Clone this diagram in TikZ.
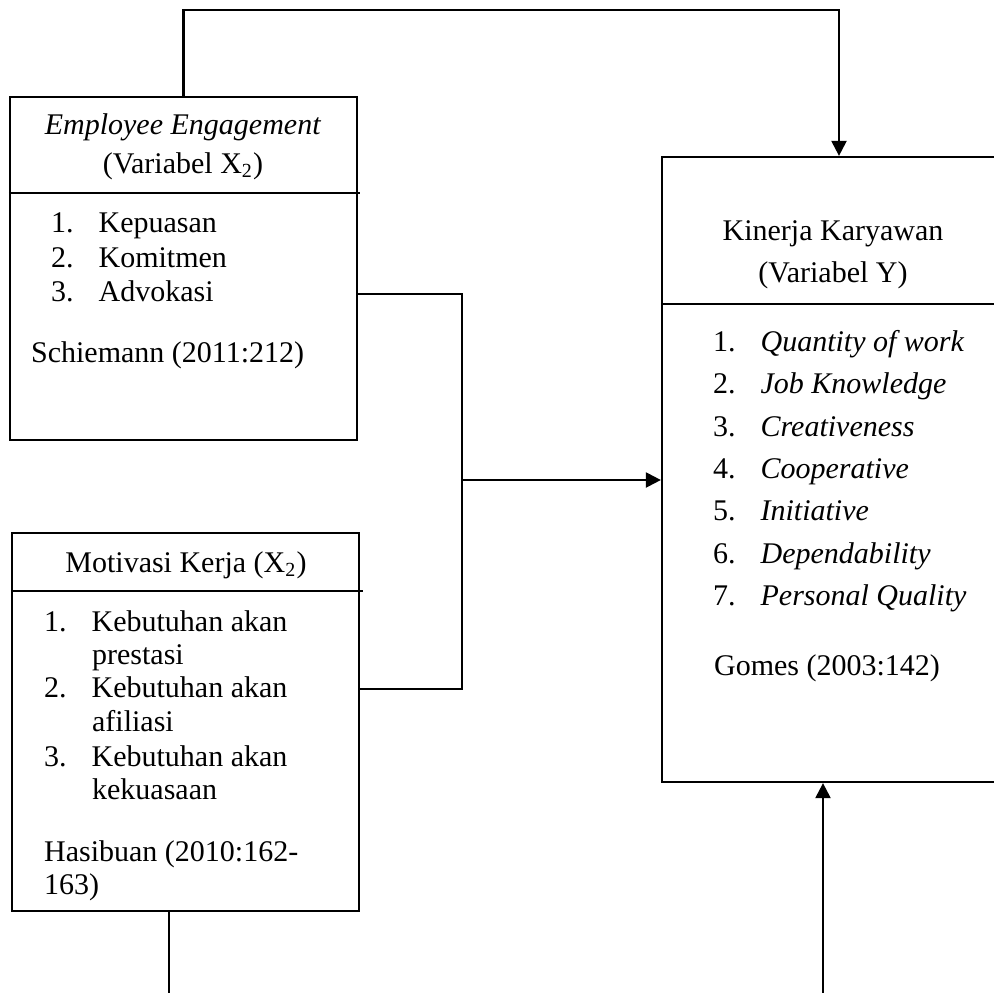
\documentclass[tikz,border=0pt]{standalone}
\usepackage{fontspec}
\setmainfont{Liberation Serif}
\usetikzlibrary{arrows.meta, positioning, calc, fit}
\newcommand{\numitem}[2]{\makebox[19pt][l]{#1}#2}
\tikzset{
>={Triangle[length=6pt,width=6pt]},
box/.style={%
    rectangle,
    draw=black,
    inner sep=0pt,
},
txt/.style={%
    inner sep=0pt,
    anchor=base west,
    % Font
    font=\fontsize{12pt}{14pt}\selectfont
},
title/.style={txt, anchor=base},
}

\begin{document}
\begin{tikzpicture}[x=0.4pt, y=-0.4pt, line width=0.9pt]
	\useasboundingbox (0,0) rectangle (994,993);
	\node[box, fit={(10,97) (357,440)}] (ee) {};
	\node[box, fit={(12,533) (359,911)}] (mk) {};
	\node[box, fit={(662,157) (1016,782)}] (kk) {};

	% Employee Engagement
	\coordinate (eediv) at (360,193);
	\node[title] (eet1) at (183,134) {\textit{Employee Engagement}};
	\node[title] (eet2) at (183,173) {(Variabel X\textsubscript{2})};
	\node[txt] (ee1) at (50,232) {\numitem{1.}{Kepuasan}};
	\node[txt] (ee2) at (50,267) {\numitem{2.}{Komitmen}};
	\node[txt] (ee3) at (50,301) {\numitem{3.}{Advokasi}};
	\node[txt] (eesrc) at (30,362) {Schiemann (2011:212)};

	% Motivasi Kerja
	\coordinate (mkdiv) at (363,591);
	\node[title] (mkt) at (186,572) {Motivasi Kerja (X\textsubscript{2})};
	\node[txt] (mk1) at (43,631) {\numitem{1.}{Kebutuhan akan}};
	\node[txt] (mk1b) at (91,664) {prestasi};
	\node[txt] (mk2) at (43,697) {\numitem{2.}{Kebutuhan akan}};
	\node[txt] (mk2b) at (91,731) {afiliasi};
	\node[txt] (mk3) at (43,766) {\numitem{3.}{Kebutuhan akan}};
	\node[txt] (mk3b) at (91,799) {kekuasaan};
	\node[txt] (mksrc) at (43,861) {Hasibuan (2010:162-};
	\node[txt] (mksrcb) at (43,894) {163)};

	% Kinerja Karyawan
	\coordinate (kkdiv) at (1016,304);
	\node[title] (kkt1) at (833,240) {Kinerja Karyawan};
	\node[title] (kkt2) at (833,282) {(Variabel Y)};
	\node[txt] (kk1) at (712,351) {\numitem{1.}{\textit{Quantity of work}}};
	\node[txt] (kk2) at (712,393) {\numitem{2.}{\textit{Job Knowledge}}};
	\node[txt] (kk3) at (712,436) {\numitem{3.}{\textit{Creativeness}}};
	\node[txt] (kk4) at (712,478) {\numitem{4.}{\textit{Cooperative}}};
	\node[txt] (kk5) at (712,520) {\numitem{5.}{\textit{Initiative}}};
	\node[txt] (kk6) at (712,563) {\numitem{6.}{\textit{Dependability}}};
	\node[txt] (kk7) at (712,605) {\numitem{7.}{\textit{Personal Quality}}};
	\node[txt] (kksrc) at (713,675) {Gomes (2003:142)};

	\draw (ee.west |- eediv) -- (eediv);
	\draw (mk.west |- mkdiv) -- (mkdiv);
	\draw (kk.west |- kkdiv) -- (kkdiv);

	% connectors
	\coordinate (eeout) at (357,294);
	\coordinate (mkout) at (359,689);
	\coordinate (junc) at (462,480);
	\coordinate (mkdown) at (169,993);
	\coordinate (kkup) at (823,993);
	\draw[->] (ee.north) -- ++(0,-86) -| (kk.north);
	\draw (eeout) -| (junc) |- (mkout);
	\draw[->] (junc) -- (junc -| kk.west);
	\draw (mkdown |- mk.south) -- (mkdown);
	\draw[->] (kkup) -- (kkup |- kk.south);
\end{tikzpicture}
\end{document}
